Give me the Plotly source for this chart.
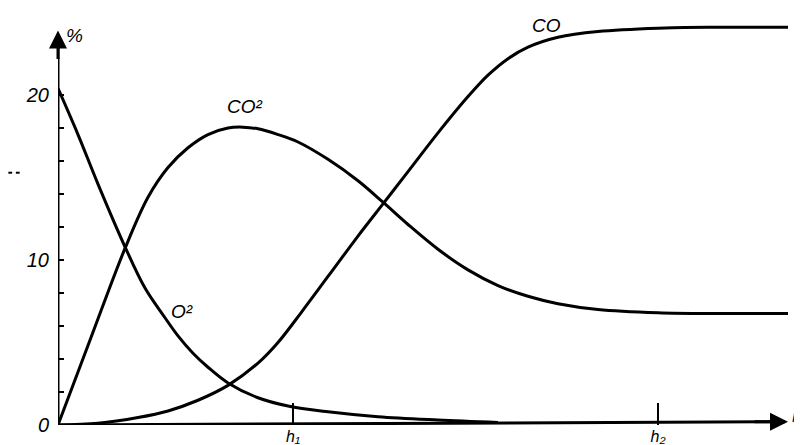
import plotly.graph_objects as go

# x in arbitrary length units (h1 ~ 23.5, h2 ~ 60), y in %
o2_x = [0, 2, 4, 6.7, 8.7, 10.7, 12, 13.5, 15, 17, 20, 23, 27, 32, 38, 44]
o2_y = [20.4, 17.6, 14.6, 10.8, 8.3, 6.5, 5.4, 4.35, 3.5, 2.55, 1.65, 1.15, 0.8, 0.5, 0.3, 0.15]

co2_x = [0, 3.3, 6.7, 9, 11, 13, 15, 17, 18.5, 20, 22, 24, 27, 30, 32.5, 35, 38, 41,
         44, 47, 50, 54, 60, 66, 73]
co2_y = [0, 5.3, 10.7, 13.8, 15.6, 16.8, 17.6, 18.0, 18.05, 17.95, 17.6, 17.15, 16.1,
         14.8, 13.5, 12.15, 10.65, 9.4, 8.45, 7.8, 7.35, 7.0, 6.8, 6.75, 6.75]

co_x = [0, 4, 8, 11, 14, 17, 20, 22, 24.3, 27, 30, 32.5, 35, 38, 41, 43, 45, 47, 50,
        54, 60, 66, 73]
co_y = [0, 0.1, 0.45, 0.85, 1.5, 2.4, 3.75, 5.0, 6.8, 9.0, 11.45, 13.4, 15.35, 17.7,
        19.9, 21.2, 22.2, 22.9, 23.5, 23.85, 24.05, 24.1, 24.1]

y_ticks = list(range(0, 21, 2))
y_labels = ['0' if v == 0 else '10' if v == 10 else '20' if v == 20 else '' for v in y_ticks]
h_ticks = [23.5, 60]
h_labels = ['h₁', 'h₂']

FONT = 'Liberation Sans Narrow, Liberation Sans, DejaVu Sans'

fig = go.Figure()
for xs, ys in [(o2_x, o2_y), (co2_x, co2_y), (co_x, co_y)]:
    fig.add_trace(go.Scatter(x=xs, y=ys, mode='lines',
                             line=dict(color='black', width=3, shape='spline', smoothing=1.0),
                             cliponaxis=False, showlegend=False, hoverinfo='skip'))

# axes drawn by hand (lines + arrow heads)
fig.add_shape(type='line', x0=0, y0=0, x1=0, y1=23.6, line=dict(color='black', width=3))
fig.add_shape(type='line', x0=0, y0=0, x1=72.7, y1=0.2, line=dict(color='black', width=3))
fig.add_annotation(x=0, y=23.9, ax=0, ay=30, text='', showarrow=True,
                   arrowhead=2, arrowsize=1.2, arrowwidth=3, arrowcolor='black')
fig.add_annotation(x=73.0, y=0.2, ax=-35, ay=0, text='', showarrow=True,
                   arrowhead=2, arrowsize=1.2, arrowwidth=3, arrowcolor='black')
for x0 in (-0.066, -0.056):
    fig.add_shape(type='line', xref='paper', yref='paper', x0=x0, x1=x0 + 0.005,
                  y0=0.605, y1=0.605, line=dict(color='black', width=2))

lab = dict(showarrow=False, font=dict(family=FONT, size=19, color='black', style='italic'))
fig.add_annotation(x=0.6, y=23.6, text='%', xanchor='left', **lab)
fig.add_annotation(x=73.2, y=0.5, text='H', xanchor='left', showarrow=False,
                   font=dict(family=FONT, size=14, color='black', style='italic'))
fig.add_annotation(x=18.7, y=19.3, text='CO²', **lab)
fig.add_annotation(x=48.8, y=24.2, text='CO', **lab)
fig.add_annotation(x=11.1, y=6.9, text='O²', xanchor='left', **lab)

fig.update_xaxes(range=[0, 75.2], showgrid=False, zeroline=False, showline=False,
                 tickvals=h_ticks, ticktext=h_labels, ticks='inside', ticklen=22,
                 tickwidth=2, tickcolor='black', automargin=False,
                 tickfont=dict(size=16))
fig.update_yaxes(range=[0, 25.27], showgrid=False, zeroline=False, showline=False,
                 tickvals=y_ticks, ticktext=y_labels, ticks='inside', ticklen=6,
                 tickwidth=2, tickcolor='black', automargin=False,
                 ticklabelstandoff=8)
fig.update_layout(
    width=802, height=445,
    margin=dict(l=50, r=0, t=0, b=28),
    plot_bgcolor='white', paper_bgcolor='white',
    font=dict(family=FONT, size=20, color='black', style='italic'),
)

fig.write_html('out.html')
